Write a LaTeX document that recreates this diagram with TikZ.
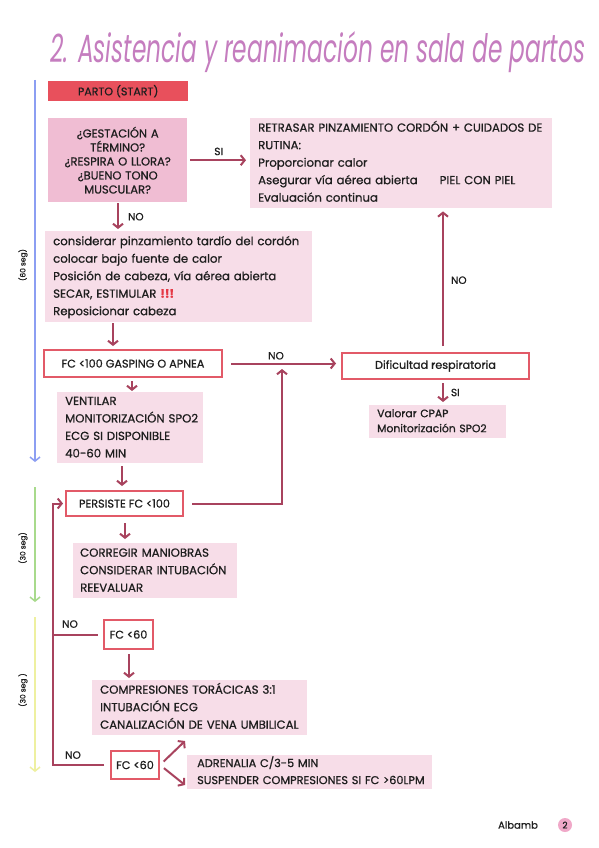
\documentclass[tikz,border=0pt]{standalone}
\usepackage{fontspec}
\setmainfont{Poppins}
\newfontfamily\bodyf{Poppins}[FakeBold=0.8]
\usetikzlibrary{arrows.meta}
\definecolor{startred}{HTML}{E8505C}
\definecolor{qpink}{HTML}{F0BDD3}
\definecolor{lpink}{HTML}{F7DDE8}
\definecolor{bred}{HTML}{E25A68}
\definecolor{arrc}{HTML}{A8435E}
\definecolor{tlblue}{HTML}{8C9EF2}
\definecolor{tlgreen}{HTML}{A8DA8C}
\definecolor{tlyellow}{HTML}{EEF0A0}
\definecolor{titlec}{HTML}{C57DBF}
\definecolor{txtc}{HTML}{1E1E1E}
\definecolor{exred}{HTML}{E53946}
\definecolor{pagec}{HTML}{F0A8C8}
\newcommand{\boxlines}[1]{\begin{tabular}{@{}l@{}}#1\end{tabular}}
\tikzset{
  body/.style={font=\bodyf\fontsize{11.7}{17.5}\selectfont},
  lbox/.style={fill=lpink, anchor=north west, align=left, inner xsep=8pt, inner ysep=0pt, body, text=txtc},
  rbox/.style={draw=bred, line width=2pt, fill=white, anchor=north west, align=center, inner sep=0pt, font=\bodyf\fontsize{11.2}{13}\selectfont, text=txtc},
  arr/.style={draw=arrc, line width=2pt, -{Straight Barb[length=4pt,width=10pt]}},
  lnk/.style={draw=arrc, line width=2pt},
  lbl/.style={font=\bodyf\fontsize{10.5}{12}\selectfont, text=txtc, inner sep=1pt},
  tl/.style={line width=1.5pt, -{Straight Barb[length=4pt,width=10pt]}},
  tllbl/.style={font=\bodyf\fontsize{7.5}{8}\selectfont, text=txtc, rotate=90},
}
\begin{document}
\begin{tikzpicture}[x=1pt,y=-1pt]
\useasboundingbox (0,0) rectangle (599,848);
\fill[white] (0,0) rectangle (599,848);

% title
\node[text=titlec, inner sep=0pt] (title) at (318,52) {\resizebox{535pt}{31pt}{\itshape 2. Asistencia y reanimación en sala de partos}};

% timeline
\coordinate (b1) at (35,80); \coordinate (b2) at (35,462);
\coordinate (g1) at (35,487); \coordinate (g2) at (35,602);
\coordinate (y1) at (35,617); \coordinate (y2) at (35,772);
\draw[tl, tlblue] (b1) -- (b2);
\draw[tl, tlgreen] (g1) -- (g2);
\draw[tl, tlyellow] (y1) -- (y2);
\node[tllbl] (l60) at (23,265) {(60 seg)};
\node[tllbl] (l30a) at (23,548) {(30 seg)};
\node[tllbl] (l30b) at (23,690) {(30 seg )};

% nodes
\node[fill=startred, anchor=north west, minimum width=140, minimum height=20, inner sep=0pt, font=\bodyf\fontsize{11}{12}\selectfont, text=txtc] (start) at (48,81) {PARTO (START)};
\node[fill=qpink, anchor=north west, minimum width=139, minimum height=84, text width=137, inner sep=0pt, align=center, font=\bodyf\fontsize{11.5}{14}\selectfont, text=txtc] (q) at (48,118) {¿GESTACIÓN A\\TÉRMINO?\\¿RESPIRA O LLORA?\\¿BUENO TONO\\MUSCULAR?};
\node[lbox, minimum width=302, minimum height=90, text width=286] (rutina) at (250,118) {\boxlines{RETRASAR PINZAMIENTO CORDÓN + CUIDADOS DE\\RUTINA:\\Proporcionar calor\\Asegurar vía aérea abierta\hspace{22pt}PIEL CON PIEL\\Evaluación continua}};
\node[lbox, minimum width=267, minimum height=91, text width=251] (c3) at (45,231) {\boxlines{considerar pinzamiento tardío del cordón\\colocar bajo fuente de calor\\Posición de cabeza, vía aérea abierta\\SECAR, ESTIMULAR {\color{exred}\bfseries !!!}\\Reposicionar cabeza}};
\node[rbox, minimum width=178, minimum height=27] (fc100) at (43,349) {FC <100 GASPING O APNEA};
\node[rbox, minimum width=187, minimum height=26] (dif) at (341,352) {Dificultad respiratoria};
\node[lbox, minimum width=137, minimum height=33, text width=121, font=\bodyf\fontsize{10.8}{15}\selectfont] (val) at (369,405) {\boxlines{Valorar CPAP\\Monitorización SPO2}};
\node[lbox, minimum width=146, minimum height=71, text width=130] (vent) at (57,392) {\boxlines{VENTILAR\\MONITORIZACIÓN SPO2\\ECG SI DISPONIBLE\\40-60 MIN}};
\node[rbox, minimum width=117, minimum height=25] (pers) at (65,490) {PERSISTE FC <100};
\node[lbox, minimum width=164, minimum height=55, text width=150, inner xsep=7pt] (corr) at (73,543) {\boxlines{CORREGIR MANIOBRAS\\CONSIDERAR INTUBACIÓN\\REEVALUAR}};
\node[rbox, minimum width=49, minimum height=29] (fc60a) at (103,619) {FC <60};
\node[lbox, minimum width=215, minimum height=55, text width=199] (comp) at (92,680) {\boxlines{COMPRESIONES TORÁCICAS 3:1\\INTUBACIÓN ECG\\CANALIZACIÓN DE VENA UMBILICAL}};
\node[rbox, minimum width=48, minimum height=28] (fc60b) at (110,750) {FC <60};
\node[lbox, minimum width=245, minimum height=33, text width=225, inner xsep=10pt, font=\bodyf\fontsize{11.3}{17}\selectfont] (adr) at (187,755) {\boxlines{ADRENALIA C/3-5 MIN\\SUSPENDER COMPRESIONES SI FC >60LPM}};

% helper coordinates
\coordinate (x118) at (118,0);
\coordinate (x113) at (113,0);
\coordinate (x132) at (132,0);
\coordinate (x122) at (122,0);
\coordinate (x125) at (125,0);
\coordinate (x129) at (129,0);
\coordinate (x443) at (443,0);
\coordinate (loopx) at (53,0);
\coordinate (tip282) at (282,369);
\coordinate (tcomp) at (185,741);
\coordinate (tadr) at (185,785);

% connectors
\draw[arr, shorten <=3pt, shorten >=4pt] (q.east) -- (q.east -| rutina.west) node[lbl, midway, above=3pt] {SI};
\draw[arr, shorten <=1pt, shorten >=2pt] (q.south -| x118) -- (c3.north -| x118) node[lbl, midway, right=8pt] {NO};
\draw[arr, shorten <=1pt, shorten >=3pt] (c3.south -| x113) -- (fc100.north -| x113);
\draw[arr, shorten <=8pt, shorten >=5pt] (fc100.east) -- (fc100.east -| dif.west) node[lbl, midway, above=2pt, xshift=-6pt] {NO};
\draw[arr, shorten <=6pt, shorten >=3pt] (dif.north -| x443) -- (rutina.south -| x443) node[lbl, midway, right=6pt] {NO};
\draw[arr, shorten <=3pt, shorten >=3pt] (dif.south -| x443) -- (val.north -| x443) node[lbl, midway, right=6pt] {SI};
\draw[arr, shorten <=3pt, shorten >=1pt] (fc100.south -| x132) -- (vent.north -| x132);
\draw[arr, shorten <=3pt, shorten >=4pt] (vent.south -| x122) -- (pers.north -| x122);
\draw[arr, shorten <=6pt, shorten >=4pt] (pers.south -| x125) -- (corr.north -| x125);
\draw[arr, shorten <=8pt] (pers.east) -| (tip282);
\draw[arr, shorten <=6pt, shorten >=2pt] (fc60b.west) -- (fc60b.west -| loopx) |- (pers.west);
\node[lbl, anchor=south] (no3) at (73,760) {NO};
\draw[lnk, shorten >=5pt] (loopx |- fc60a.west) -- (fc60a.west);
\node[lbl, anchor=south] (no2) at (70,629) {NO};
\draw[arr, shorten <=4pt, shorten >=2pt] (fc60a.south -| x129) -- (comp.north -| x129);
\draw[arr, shorten <=5pt] (fc60b.east) -- (tcomp);
\draw[arr, shorten <=5pt] (fc60b.east) -- (tadr);

% footer
\node[font=\bodyf\fontsize{10}{12}\selectfont, text=txtc] (auth) at (518,825) {Albamb};
\node[circle, fill=pagec, minimum size=14, inner sep=0pt, font=\bodyf\fontsize{9}{10}\selectfont, text=txtc] (pg) at (565,825) {2};
\end{tikzpicture}
\end{document}
